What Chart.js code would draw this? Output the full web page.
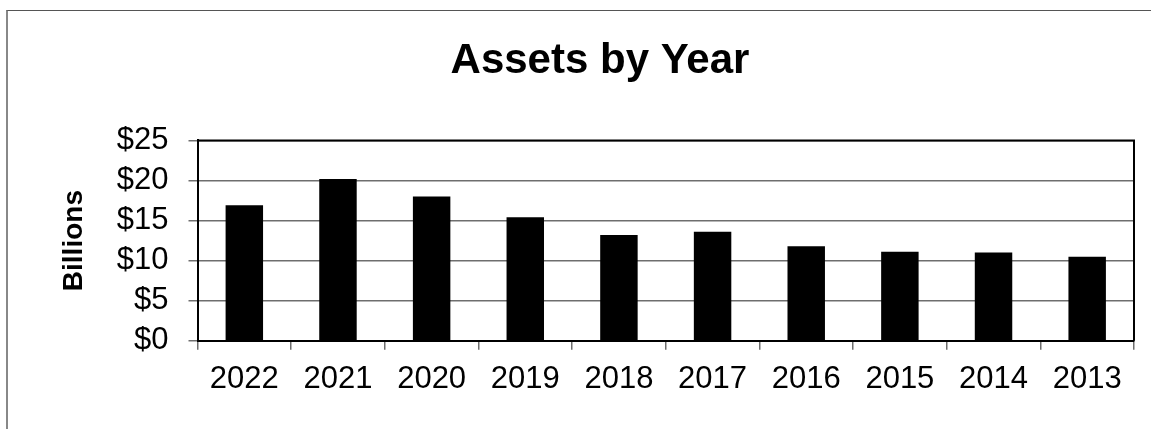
<!DOCTYPE html>
<html>
<head>
<meta charset="utf-8">
<script src="https://cdn.jsdelivr.net/npm/chart.js@4.4.1/dist/chart.umd.min.js"></script>
<style>
  html, body { margin: 0; padding: 0; background: #fff; overflow: hidden; }
  #frame {
    position: absolute; left: 6px; top: 10px; width: 1300px; height: 600px;
    border-top: 1px solid #555; border-left: 2px solid #888;
  }
  #assetsChart { position: absolute; left: 40px; top: 0; }
</style>
</head>
<body>
<div id="frame"></div>
<canvas id="assetsChart" width="1095" height="429"></canvas>
<script>
// values (billions of dollars)
const years = ['2022', '2021', '2020', '2019', '2018', '2017', '2016', '2015', '2014', '2013'];
const assets = [16.9, 20.2, 18.0, 15.4, 13.2, 13.6, 11.8, 11.1, 11.0, 10.5];
const yMin = 0;
const yMax = 25;
const yStep = 5;

const FONT = "'Liberation Sans', Arial, sans-serif";

// top + right edge of the plot box, like the original spreadsheet chart
const plotBox = {
  id: 'plotBox',
  afterDraw(chart) {
    const a = chart.chartArea;
    const ctx = chart.ctx;
    ctx.save();
    ctx.strokeStyle = '#000';
    ctx.lineWidth = 2;
    ctx.beginPath();
    ctx.moveTo(a.left, a.top);
    ctx.lineTo(a.right, a.top);
    ctx.lineTo(a.right, a.bottom);
    ctx.stroke();
    ctx.restore();
  }
};

const assets_data = {
  labels: years,
  datasets: [{
    label: 'Assets',
    data: assets,
    backgroundColor: '#000',
    borderWidth: 0,
    barPercentage: 0.4,
    categoryPercentage: 1.0
  }]
};

const assets_config = {
  type: 'bar',
  data: assets_data,
  options: {
    responsive: false,
    animation: false,
    layout: { padding: { left: 26, right: 1, top: 0, bottom: 20 } },
    plugins: {
      legend: { display: false },
      tooltip: { enabled: false },
      title: {
        display: true,
        text: 'Assets by Year',
        color: '#000',
        font: { family: FONT, size: 42, weight: 'bold' },
        padding: { top: 36, bottom: 54 }
      }
    },
    scales: {
      x: {
        grid: { drawOnChartArea: false, drawTicks: true, tickLength: 9, color: '#6e6e6e', lineWidth: 1.5 },
        border: { color: '#000', width: 2 },
        ticks: { color: '#000', padding: 11, autoSkip: false, maxRotation: 0, font: { family: FONT, size: 31 } }
      },
      y: {
        min: yMin,
        max: yMax,
        afterFit(scale) { scale.width = 131.5; },
        grid: { color: '#6e6e6e', lineWidth: 1.5, tickLength: 9 },
        border: { color: '#000', width: 2 },
        ticks: {
          stepSize: yStep,
          autoSkip: false,
          color: '#000',
          padding: 20,
          font: { family: FONT, size: 31 },
          callback: v => '$' + v
        },
        title: {
          display: true,
          text: 'Billions',
          color: '#000',
          font: { family: FONT, size: 28, weight: 'bold', lineHeight: 0.56 },
          padding: { top: 0, bottom: 0 }
        }
      }
    }
  },
  plugins: [plotBox]
};

const assets_chart = new Chart(
  document.getElementById('assetsChart'),
  assets_config
);
</script>
</body>
</html>
